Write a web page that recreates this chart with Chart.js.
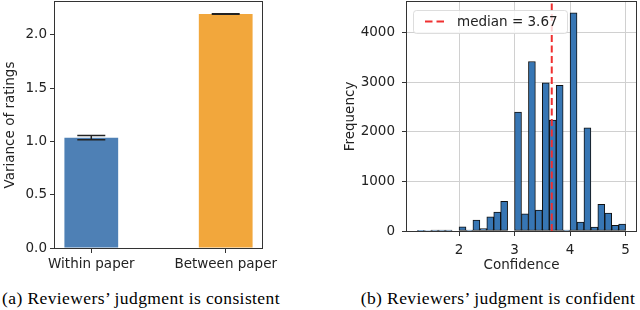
<!DOCTYPE html>
<html>
<head>
<meta charset="utf-8">
<script src="https://cdn.jsdelivr.net/npm/chart.js@4.4.0/dist/chart.umd.min.js"></script>
<style>
  body { margin: 0; background: #fff; width: 640px; height: 310px; position: relative; overflow: hidden; }
  .panel { position: absolute; top: 0; }
  .caption { position: absolute; top: 288px; width: 320px; text-align: center; white-space: nowrap;
             font-family: 'Liberation Serif', 'Times New Roman', serif; font-size: 17.5px; line-height: 20px;
             letter-spacing: 0.4px; color: #000; }
</style>
</head>
<body>
<canvas id="left" class="panel" width="320" height="280" style="left:0"></canvas>
<canvas id="right" class="panel" width="320" height="280" style="left:320px"></canvas>
<div class="caption" style="left:-19px">(a) Reviewers’ judgment is consistent</div>
<div class="caption" style="left:338px">(b) Reviewers’ judgment is confident</div>

<script>
/* (a) variance bars */
const groupLabels = ['Within paper', 'Between paper'];
const groupPos = [0, 1];
const variance = [1.035, 2.195];
const varianceErr = [0.02, 0.003];
const varianceColors = ['#4e80b5', '#f2a73c'];
const varianceTicks = [0, 0.5, 1.0, 1.5, 2.0];

/* (b) confidence histogram, left bin edges */
const binEdges = [1.25, 1.375, 1.5, 1.625, 1.75, 1.875, 2.0, 2.125, 2.25, 2.375,
                  2.5, 2.625, 2.75, 2.875, 3.0, 3.125, 3.25, 3.375, 3.5, 3.625,
                  3.75, 3.875, 4.0, 4.125, 4.25, 4.375, 4.5, 4.625, 4.75, 4.875];
const binCounts = [8, 10, 20, 20, 20, 0, 85, 20, 220, 48,
                   285, 380, 600, 0, 2400, 345, 3420, 422, 2990, 2240,
                   2940, 20, 4400, 182, 2080, 80, 536, 362, 115, 140];
const binWidth = 0.125;
const confTicks = [2, 3, 4, 5];
const freqTicks = [0, 1000, 2000, 3000, 4000];
const freqMax = 4620;
const medianConf = 3.67;

Chart.defaults.font.family = "'DejaVu Sans', sans-serif";
Chart.defaults.font.size = 13.5;
Chart.defaults.color = '#222';

// fixed axis sizes so the plot area lands where the original has it
const fixH = h => s => { s.height = h; s.paddingLeft = 0; s.paddingRight = 0; };
const fixW = w => s => { s.width = w; s.paddingTop = 0; s.paddingBottom = 0; };

// box around the plot area, like matplotlib spines
const frame = {
  id: 'frame',
  afterDraw(chart) {
    const {ctx, chartArea: a} = chart;
    ctx.save();
    ctx.strokeStyle = '#333';
    ctx.lineWidth = 1;
    ctx.strokeRect(Math.round(a.left) - 0.5, Math.round(a.top) - 0.5,
                   Math.round(a.right - a.left) + 1, Math.round(a.bottom - a.top) + 1);
    ctx.restore();
  }
};

const errorBars = {
  id: 'errorBars',
  afterDatasetsDraw(chart) {
    const {ctx, scales: {x, y}} = chart;
    ctx.save();
    ctx.strokeStyle = '#222';
    ctx.lineWidth = 1.5;
    groupPos.forEach((p, i) => {
      const px = x.getPixelForValue(p);
      const lo = y.getPixelForValue(variance[i] - varianceErr[i]);
      const hi = y.getPixelForValue(variance[i] + varianceErr[i]);
      ctx.beginPath();
      ctx.moveTo(px, lo); ctx.lineTo(px, hi);
      ctx.moveTo(px - 14, lo); ctx.lineTo(px + 14, lo);
      ctx.moveTo(px - 14, hi); ctx.lineTo(px + 14, hi);
      ctx.stroke();
    });
    ctx.restore();
  }
};

const medianLegend = {
  id: 'medianLegend',
  afterDatasetsDraw(chart) {
    const {ctx, chartArea: a} = chart;
    const x0 = Math.round(a.left) + 6, y0 = Math.round(a.top) + 8, w = 154, h = 23;
    ctx.save();
    ctx.globalAlpha = 0.8;
    ctx.fillStyle = '#fff';
    ctx.strokeStyle = '#d4d4d4';
    ctx.lineWidth = 1;
    ctx.beginPath();
    ctx.roundRect(x0 + 0.5, y0 + 0.5, w, h, 3);
    ctx.fill();
    ctx.stroke();
    ctx.globalAlpha = 1;
    ctx.strokeStyle = '#f03030';
    ctx.lineWidth = 2;
    ctx.setLineDash([7.5, 4]);
    ctx.beginPath();
    ctx.moveTo(x0 + 12, y0 + h / 2);
    ctx.lineTo(x0 + 31, y0 + h / 2);
    ctx.stroke();
    ctx.fillStyle = '#222';
    ctx.font = "13.5px 'DejaVu Sans'";
    ctx.textBaseline = 'middle';
    ctx.fillText('median = ' + medianConf.toFixed(2), x0 + 44, y0 + h / 2 + 0.5);
    ctx.restore();
  }
};

new Chart(document.getElementById('left'), {
  type: 'bar',
  data: {
    datasets: [{
      data: groupPos.map((p, i) => ({x: p, y: variance[i]})),
      backgroundColor: varianceColors,
      categoryPercentage: 0.4,
      barPercentage: 1
    }]
  },
  options: {
    responsive: false,
    animation: false,
    layout: { padding: { left: 0, right: 58, top: 2, bottom: 0 } },
    plugins: { legend: { display: false }, tooltip: { enabled: false } },
    scales: {
      x: {
        type: 'linear', min: -0.27, max: 1.27, offset: false,
        afterBuildTicks: s => { s.ticks = groupPos.map(v => ({value: v})); },
        afterFit: fixH(32),
        grid: { offset: false, drawOnChartArea: false, tickLength: 5, tickColor: '#333' },
        border: { display: false },
        ticks: { padding: 3, maxRotation: 0, autoSkip: false,
                 callback: (v, i) => groupLabels[i] }
      },
      y: {
        min: 0, max: 2.308,
        afterBuildTicks: s => { s.ticks = varianceTicks.map(v => ({value: v})); },
        afterFit: fixW(55),
        grid: { drawOnChartArea: false, tickLength: 5, tickColor: '#333' },
        border: { display: false },
        title: { display: true, text: 'Variance of ratings', padding: { top: 2, bottom: 0 } },
        ticks: { padding: 3, callback: v => v.toFixed(1) }
      }
    }
  },
  plugins: [errorBars, frame]
});

new Chart(document.getElementById('right'), {
  type: 'bar',
  data: {
    datasets: [{
      type: 'line',
      order: 1,
      data: [{x: medianConf, y: 0}, {x: medianConf, y: freqMax}],
      borderColor: '#f03030',
      borderWidth: 2,
      borderDash: [7, 3.5],
      pointRadius: 0
    }, {
      order: 2,
      data: binEdges.map((e, i) => ({x: e + binWidth / 2, y: binCounts[i]})),
      backgroundColor: '#3776b4',
      borderColor: '#111',
      borderWidth: 1,
      borderSkipped: false,
      categoryPercentage: 1,
      barPercentage: 1
    }]
  },
  options: {
    responsive: false,
    animation: false,
    layout: { padding: { left: 0, right: 4, top: 2, bottom: 0 } },
    plugins: { legend: { display: false }, tooltip: { enabled: false } },
    scales: {
      x: {
        type: 'linear', min: 1.0625, max: 5.1875, offset: false,
        afterBuildTicks: s => { s.ticks = confTicks.map(v => ({value: v})); },
        afterFit: fixH(49),
        grid: { offset: false, color: '#d0d0d0', tickLength: 5, tickColor: '#333' },
        border: { display: false },
        title: { display: true, text: 'Confidence', padding: { top: 0, bottom: 6 } },
        ticks: { padding: 6, maxRotation: 0, callback: v => String(v) }
      },
      y: {
        min: 0, max: freqMax,
        afterBuildTicks: s => { s.ticks = freqTicks.map(v => ({value: v})); },
        afterFit: fixW(87),
        grid: { color: '#d0d0d0', tickLength: 5, tickColor: '#333' },
        border: { display: false },
        title: { display: true, text: 'Frequency', padding: { top: 22, bottom: 0 } },
        ticks: { padding: 7, callback: v => String(v) }
      }
    }
  },
  plugins: [medianLegend, frame]
});
</script>
</body>
</html>
